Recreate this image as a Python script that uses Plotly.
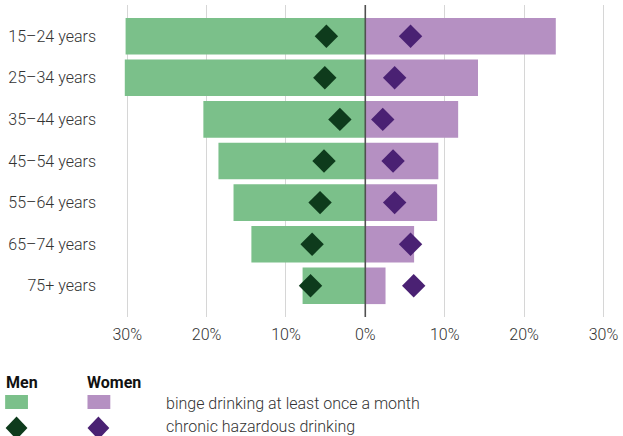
import plotly.graph_objects as go

age_groups = ['15–24 years', '25–34 years', '35–44 years', '45–54 years',
              '55–64 years', '65–74 years', '75+ years']

# binge drinking at least once a month (%)
men_binge = [30.2, 30.3, 20.4, 18.5, 16.6, 14.35, 7.9]
women_binge = [24.0, 14.2, 11.7, 9.2, 9.05, 6.15, 2.55]

# chronic hazardous drinking (%)
men_chronic = [4.9, 5.1, 3.2, 5.2, 5.7, 6.7, 6.9]
women_chronic = [5.7, 3.7, 2.2, 3.5, 3.7, 5.7, 6.1]

tick_vals = [-30, -20, -10, 0, 10, 20, 30]
tick_text = ['30%', '20%', '10%', '0%', '10%', '20%', '30%']

GREEN = '#7bc08a'
GREEN_DARK = '#0e3b1c'
PURPLE = '#b590c2'
PURPLE_DARK = '#4a2173'
FONT = 'Roboto'

fig = go.Figure()

fig.add_trace(go.Bar(
    y=age_groups, x=[-v for v in men_binge], orientation='h',
    marker=dict(color=GREEN, line=dict(width=0)), width=0.88, name='Men binge',
))
fig.add_trace(go.Bar(
    y=age_groups, x=women_binge, orientation='h',
    marker=dict(color=PURPLE, line=dict(width=0)), width=0.88, name='Women binge',
))
fig.add_trace(go.Scatter(
    y=age_groups, x=[-v for v in men_chronic], mode='markers',
    marker=dict(symbol='diamond', size=18, color=GREEN_DARK, line=dict(width=0)),
    name='Men chronic',
))
fig.add_trace(go.Scatter(
    y=age_groups, x=women_chronic, mode='markers',
    marker=dict(symbol='diamond', size=18, color=PURPLE_DARK, line=dict(width=0)),
    name='Women chronic',
))

# plot area in pixels (range slightly wider than +-30 so long bars aren't clipped)
X_MIN, X_MAX = -30.4, 30.2
PX_PER_UNIT = 8.0
L = 367 + X_MIN * PX_PER_UNIT
R = 367 + X_MAX * PX_PER_UNIT
T, B = 5, 317
W, H = R - L, B - T


def px(x):
    return (x - L) / W


def py(y):
    return (B - y) / H


shapes = [
    dict(type='line', xref='x', yref='paper', x0=0, x1=0, y0=0, y1=1,
         line=dict(color='#505050', width=1.6)),
    # legend swatches
    dict(type='rect', xref='paper', yref='paper', x0=px(4), x1=px(27),
         y0=py(409), y1=py(395), fillcolor=GREEN, line=dict(width=0)),
    dict(type='rect', xref='paper', yref='paper', x0=px(87), x1=px(110),
         y0=py(409), y1=py(395), fillcolor=PURPLE, line=dict(width=0)),
]


def diamond(cx, cy, hw, hh, color):
    path = (f'M {px(cx - hw)},{py(cy)} L {px(cx)},{py(cy - hh)} '
            f'L {px(cx + hw)},{py(cy)} L {px(cx)},{py(cy + hh)} Z')
    return dict(type='path', xref='paper', yref='paper', path=path,
                fillcolor=color, line=dict(width=0))


shapes.append(diamond(15.5, 428, 11, 11.5, GREEN_DARK))
shapes.append(diamond(98, 428, 11, 11.5, PURPLE_DARK))

annotations = [
    dict(text='<b>Men</b>', x=px(3), y=py(382), xref='paper', yref='paper',
         xanchor='left', yanchor='middle', showarrow=False,
         font=dict(family=FONT, size=16, color='#111111', weight=400)),
    dict(text='<b>Women</b>', x=px(84), y=py(382), xref='paper', yref='paper',
         xanchor='left', yanchor='middle', showarrow=False,
         font=dict(family=FONT, size=16, color='#111111', weight=400)),
    dict(text='binge drinking at least once a month', x=px(164), y=py(403),
         xref='paper', yref='paper', xanchor='left', yanchor='middle',
         showarrow=False, font=dict(family=FONT, size=16, color='#333333', weight=300)),
    dict(text='chronic hazardous drinking', x=px(164), y=py(426),
         xref='paper', yref='paper', xanchor='left', yanchor='middle',
         showarrow=False, font=dict(family=FONT, size=16, color='#333333', weight=300)),
]

fig.update_layout(
    width=623, height=436,
    margin=dict(l=L, r=623 - R, t=T, b=436 - B),
    plot_bgcolor='white', paper_bgcolor='white',
    barmode='overlay', showlegend=False,
    font=dict(family=FONT, size=16, color='#333333', weight=300),
    xaxis=dict(
        range=[X_MIN, X_MAX], tickvals=tick_vals, ticktext=tick_text,
        showgrid=True, gridcolor='#d6d6d6', gridwidth=1.3,
        zeroline=False, showline=False, ticks='',
        ticklabelstandoff=6, fixedrange=True,
    ),
    yaxis=dict(
        categoryorder='array', categoryarray=age_groups,
        range=[6.75, -0.75], showgrid=False, zeroline=False,
        ticks='', ticklabelstandoff=27, fixedrange=True,
    ),
    shapes=shapes,
    annotations=annotations,
)

fig.write_html('out.html', config={'displayModeBar': False},
               post_script="document.body.style.margin='0';")
